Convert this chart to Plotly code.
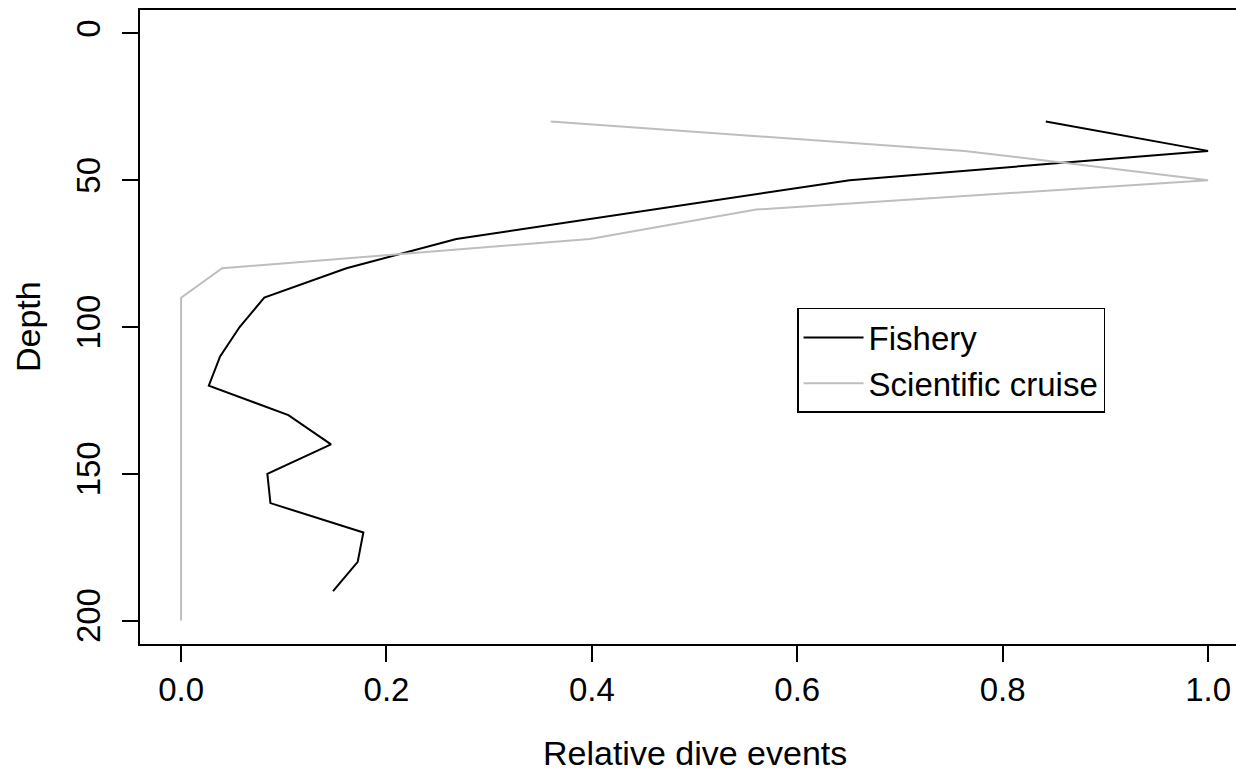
import plotly.graph_objects as go

# Data
fishery_depth = [30, 40, 50, 60, 70, 80, 90, 100, 110, 120, 130, 140, 150, 160, 170, 180, 190]
fishery_rel = [0.842, 1.0, 0.651, 0.46, 0.268, 0.161, 0.081, 0.057, 0.038, 0.027,
               0.1045, 0.146, 0.084, 0.087, 0.1775, 0.172, 0.148]

cruise_depth = [30, 40, 50, 60, 70, 80, 90, 100, 110, 120, 130, 140, 150, 160, 170, 180, 190, 200]
cruise_rel = [0.360, 0.763, 1.0, 0.560, 0.398, 0.040, 0.0, 0.0, 0.0, 0.0,
              0.0, 0.0, 0.0, 0.0, 0.0, 0.0, 0.0, 0.0]

x_ticks = [0.0, 0.2, 0.4, 0.6, 0.8, 1.0]
x_ticklabels = ["0.0", "0.2", "0.4", "0.6", "0.8", "1.0"]
y_ticks = [0, 50, 100, 150, 200]
y_ticklabels = ["0", "50", "100", "150", "200"]

FONT = "Liberation Sans, Arial, Helvetica, sans-serif"
FS = 34

fig = go.Figure()
fig.add_trace(go.Scatter(x=fishery_rel, y=fishery_depth, mode="lines", name="Fishery",
                         line=dict(color="black", width=2)))
fig.add_trace(go.Scatter(x=cruise_rel, y=cruise_depth, mode="lines", name="Scientific cruise",
                         line=dict(color="#bebebe", width=2)))

fig.update_layout(
    width=1236, height=772,
    margin=dict(l=140, r=0, t=10, b=128, pad=0),
    paper_bgcolor="white", plot_bgcolor="white",
    font=dict(family=FONT, size=FS, color="black"),
    showlegend=True,
    legend=dict(x=0.5995, y=0.53, xanchor="left", yanchor="top",
                bordercolor="black", borderwidth=1.5, bgcolor="white",
                font=dict(size=33), tracegroupgap=0, itemwidth=60),
    xaxis=dict(range=[-0.04, 1.0272], tickmode="array", tickvals=x_ticks, ticktext=x_ticklabels,
               showgrid=False, zeroline=False, showline=True, linecolor="black", linewidth=1.5,
               mirror=True, ticks="outside", ticklen=16, tickwidth=1.5, tickcolor="black",
               ticklabelstandoff=0, tickfont=dict(size=33)),
    yaxis=dict(range=[208, -8], tickmode="array", tickvals=y_ticks, ticktext=y_ticklabels,
               showgrid=False, zeroline=False, showline=True, linecolor="black", linewidth=1.5,
               ticks="outside", ticklen=16, tickwidth=1.5, tickcolor="black",
               tickangle=-90, ticklabelstandoff=9, tickfont=dict(size=33)),
    annotations=[
        dict(text="Relative dive events", xref="x", x=0.5, yref="paper", y=0,
             yshift=-109, xanchor="center", yanchor="middle", showarrow=False,
             font=dict(size=FS)),
        dict(text="Depth", xref="paper", x=0, xshift=-112, yref="y", y=100,
             xanchor="center", yanchor="middle", textangle=-90, showarrow=False,
             font=dict(size=FS)),
    ],
)

fig.write_html("out.html", config={"displayModeBar": False},
               post_script="document.body.style.margin='0';document.body.style.overflow='hidden';")
